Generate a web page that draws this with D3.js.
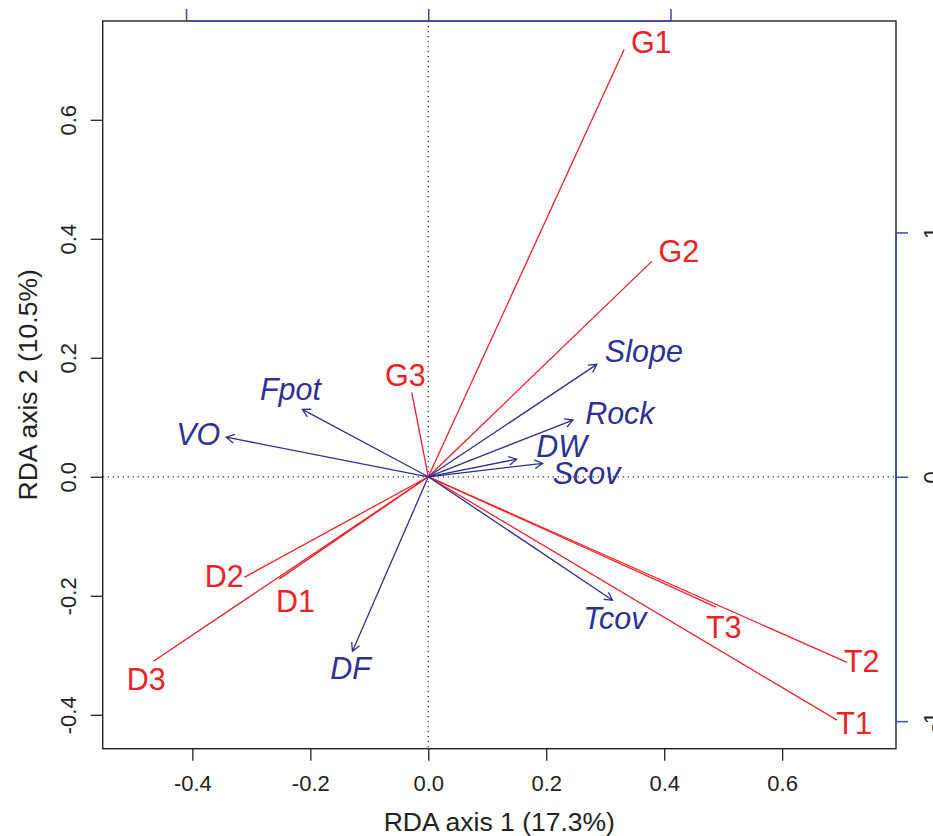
<!DOCTYPE html>
<html>
<head>
<meta charset="utf-8">
<script src="https://cdnjs.cloudflare.com/ajax/libs/d3/7.8.5/d3.min.js"></script>
<style>
body { margin: 0; background: #fff; }
text { font-family: "Liberation Sans", Arial, sans-serif; }
</style>
</head>
<body>
<script>
// species scores (red), RDA axis 1 / axis 2, plus where the label sits
var speciesNames = ["G1", "G2", "G3", "D1", "D2", "D3", "T1", "T2", "T3"]
var speciesX = [0.332, 0.379, -0.028, -0.253, -0.312, -0.466, 0.693, 0.710, 0.488]
var speciesY = [0.718, 0.362, 0.142, -0.172, -0.169, -0.310, -0.409, -0.312, -0.219]
var speciesLabX = [0.378, 0.425, -0.039, -0.225, -0.346, -0.478, 0.722, 0.735, 0.501]
var speciesLabY = [0.730, 0.379, 0.171, -0.208, -0.167, -0.340, -0.414, -0.310, -0.253]

// environmental biplot arrows (blue), in units of the top / right axes
var envNames = ["VO", "Fpot", "Slope", "Rock", "DW", "Scov", "DF", "Tcov"]
var envX = [-0.834, -0.520, 0.696, 0.597, 0.365, 0.472, -0.313, 0.761]
var envY = [0.162, 0.276, 0.460, 0.232, 0.072, 0.055, -0.714, -0.505]
var envLabX = [-0.950, -0.569, 0.890, 0.791, 0.551, 0.654, -0.321, 0.770]
var envLabY = [0.174, 0.358, 0.514, 0.260, 0.125, 0.014, -0.784, -0.579]

var ticksX = [-0.4, -0.2, 0.0, 0.2, 0.4, 0.6]
var ticksY = [-0.4, -0.2, 0.0, 0.2, 0.4, 0.6]
var ticksEnv = [-1, 0, 1]
var mul = 2.435   // arrow multiplier between main and blue axes

var red = "#ed2227", blue = "#2e3192", axisBlue = "#3d4aa8", ink = "#222"

var svg = d3.select("body").append("svg")
	.attr("width", 933)
	.attr("height", 836)

var mLeft = 102.7, mRight = 896, mTop = 21, mBottom = 748.7

var x = d3.scaleLinear().domain([-0.552, 0.793]).range([mLeft, mRight])
var y = d3.scaleLinear().domain([-0.457, 0.766]).range([mBottom, mTop])
var x2 = d3.scaleLinear().domain(x.domain().map(function(d) { return d * mul })).range([mLeft, mRight])
var y2 = d3.scaleLinear().domain(y.domain().map(function(d) { return d * mul })).range([mBottom, mTop])

// R style labels: plain hyphen minus
var fmt1 = function(d) { return d3.format(".1f")(d).replace("\u2212", "-") }
var fmt0 = function(d) { return String(d) }

// zero lines
svg.append("line")
	.attr("x1", x(0)).attr("x2", x(0)).attr("y1", mTop).attr("y2", mBottom)
	.attr("stroke", "#333").attr("stroke-width", 1.3).attr("stroke-dasharray", "1.3,3.7")
svg.append("line")
	.attr("x1", mLeft).attr("x2", mRight).attr("y1", y(0)).attr("y2", y(0))
	.attr("stroke", "#333").attr("stroke-width", 1.3).attr("stroke-dasharray", "1.3,3.7")

// species lines
var species = speciesNames.map(function(n, i) {
	return { name: n, x: speciesX[i], y: speciesY[i], lx: speciesLabX[i], ly: speciesLabY[i] }
})
svg.selectAll("line.sp")
	.data(species)
	.enter()
	.append("line")
	.attr("class", "sp")
	.attr("x1", x(0)).attr("y1", y(0))
	.attr("x2", function(d) { return x(d.x) })
	.attr("y2", function(d) { return y(d.y) })
	.attr("stroke", red)
	.attr("stroke-width", 1.3)

// env arrows
var env = envNames.map(function(n, i) {
	return { name: n, x: envX[i], y: envY[i], lx: envLabX[i], ly: envLabY[i] }
})
svg.selectAll("path.env")
	.data(env)
	.enter()
	.append("path")
	.attr("class", "env")
	.attr("d", function(d) {
		var x0 = x2(0), y0 = y2(0), x1 = x2(d.x), y1 = y2(d.y)
		var a = Math.atan2(y1 - y0, x1 - x0), len = 9, w = 0.5
		var p = "M" + x0 + "," + y0 + "L" + x1 + "," + y1
		p += "M" + (x1 - len * Math.cos(a - w)) + "," + (y1 - len * Math.sin(a - w)) + "L" + x1 + "," + y1
		p += "L" + (x1 - len * Math.cos(a + w)) + "," + (y1 - len * Math.sin(a + w))
		return p
	})
	.attr("fill", "none")
	.attr("stroke", blue)
	.attr("stroke-width", 1.3)

// labels
svg.selectAll("text.sp")
	.data(species)
	.enter()
	.append("text")
	.attr("class", "sp")
	.attr("x", function(d) { return x(d.lx) })
	.attr("y", function(d) { return y(d.ly) })
	.attr("dy", "0.36em")
	.attr("text-anchor", "middle")
	.attr("font-size", 30.5)
	.attr("fill", red)
	.text(function(d) { return d.name })

svg.selectAll("text.env")
	.data(env)
	.enter()
	.append("text")
	.attr("class", "env")
	.attr("x", function(d) { return x2(d.lx) })
	.attr("y", function(d) { return y2(d.ly) })
	.attr("dy", "0.36em")
	.attr("text-anchor", "middle")
	.attr("font-size", 30.5)
	.attr("font-style", "italic")
	.attr("fill", blue)
	.text(function(d) { return d.name })

// box
svg.append("rect")
	.attr("x", mLeft).attr("y", mTop)
	.attr("width", mRight - mLeft).attr("height", mBottom - mTop)
	.attr("fill", "none").attr("stroke", ink).attr("stroke-width", 1.4)

// main axes
var gx = svg.append("g")
	.attr("transform", "translate(0," + mBottom + ")")
	.call(d3.axisBottom(x).tickValues(ticksX).tickSize(12).tickPadding(15).tickFormat(fmt1))
var gy = svg.append("g")
	.attr("transform", "translate(" + mLeft + ",0)")
	.call(d3.axisLeft(y).tickValues(ticksY).tickSize(12).tickFormat(fmt1))
gy.selectAll(".tick text")
	.attr("x", 0).attr("dy", "0.35em")
	.attr("text-anchor", "middle")
	.attr("transform", "translate(-34.7,0) rotate(-90)")

// blue axes for the arrows (top labels fall above the page, so none drawn)
var gt = svg.append("g")
	.attr("transform", "translate(0," + mTop + ")")
	.call(d3.axisTop(x2).tickValues(ticksEnv).tickSize(12).tickFormat(""))
var gr = svg.append("g")
	.attr("transform", "translate(" + mRight + ",0)")
	.call(d3.axisRight(y2).tickValues(ticksEnv).tickSize(12).tickFormat(fmt0))
gr.selectAll(".tick text")
	.attr("x", 0).attr("dy", "0.35em")
	.attr("text-anchor", "middle")
	.attr("transform", "translate(35,0) rotate(-90)")
gt.append("line").attr("x1", x2(-1)).attr("x2", x2(1)).attr("stroke", axisBlue).attr("stroke-width", 1.5)
gr.append("line").attr("y1", y2(-1)).attr("y2", y2(1)).attr("stroke", axisBlue).attr("stroke-width", 1.5)

svg.selectAll(".domain").remove()
gx.selectAll("line").attr("stroke", ink).attr("stroke-width", 1.3)
gy.selectAll("line").attr("stroke", ink).attr("stroke-width", 1.3)
gt.selectAll(".tick line").attr("stroke", axisBlue).attr("stroke-width", 1.5)
gr.selectAll(".tick line").attr("stroke", axisBlue).attr("stroke-width", 1.5)
svg.selectAll(".tick text")
	.attr("font-size", 22)
	.attr("font-family", "Liberation Sans, Arial, sans-serif")
	.attr("fill", ink)

// axis titles
svg.append("text")
	.attr("x", (mLeft + mRight) / 2).attr("y", 821).attr("dy", "0.36em")
	.attr("text-anchor", "middle").attr("font-size", 26.5).attr("fill", ink)
	.text("RDA axis 1 (17.3%)")
svg.append("text")
	.attr("transform", "translate(27," + (mTop + mBottom) / 2 + ") rotate(-90)")
	.attr("dy", "0.36em")
	.attr("text-anchor", "middle").attr("font-size", 26.5).attr("fill", ink)
	.text("RDA axis 2 (10.5%)")
</script>
</body>
</html>
